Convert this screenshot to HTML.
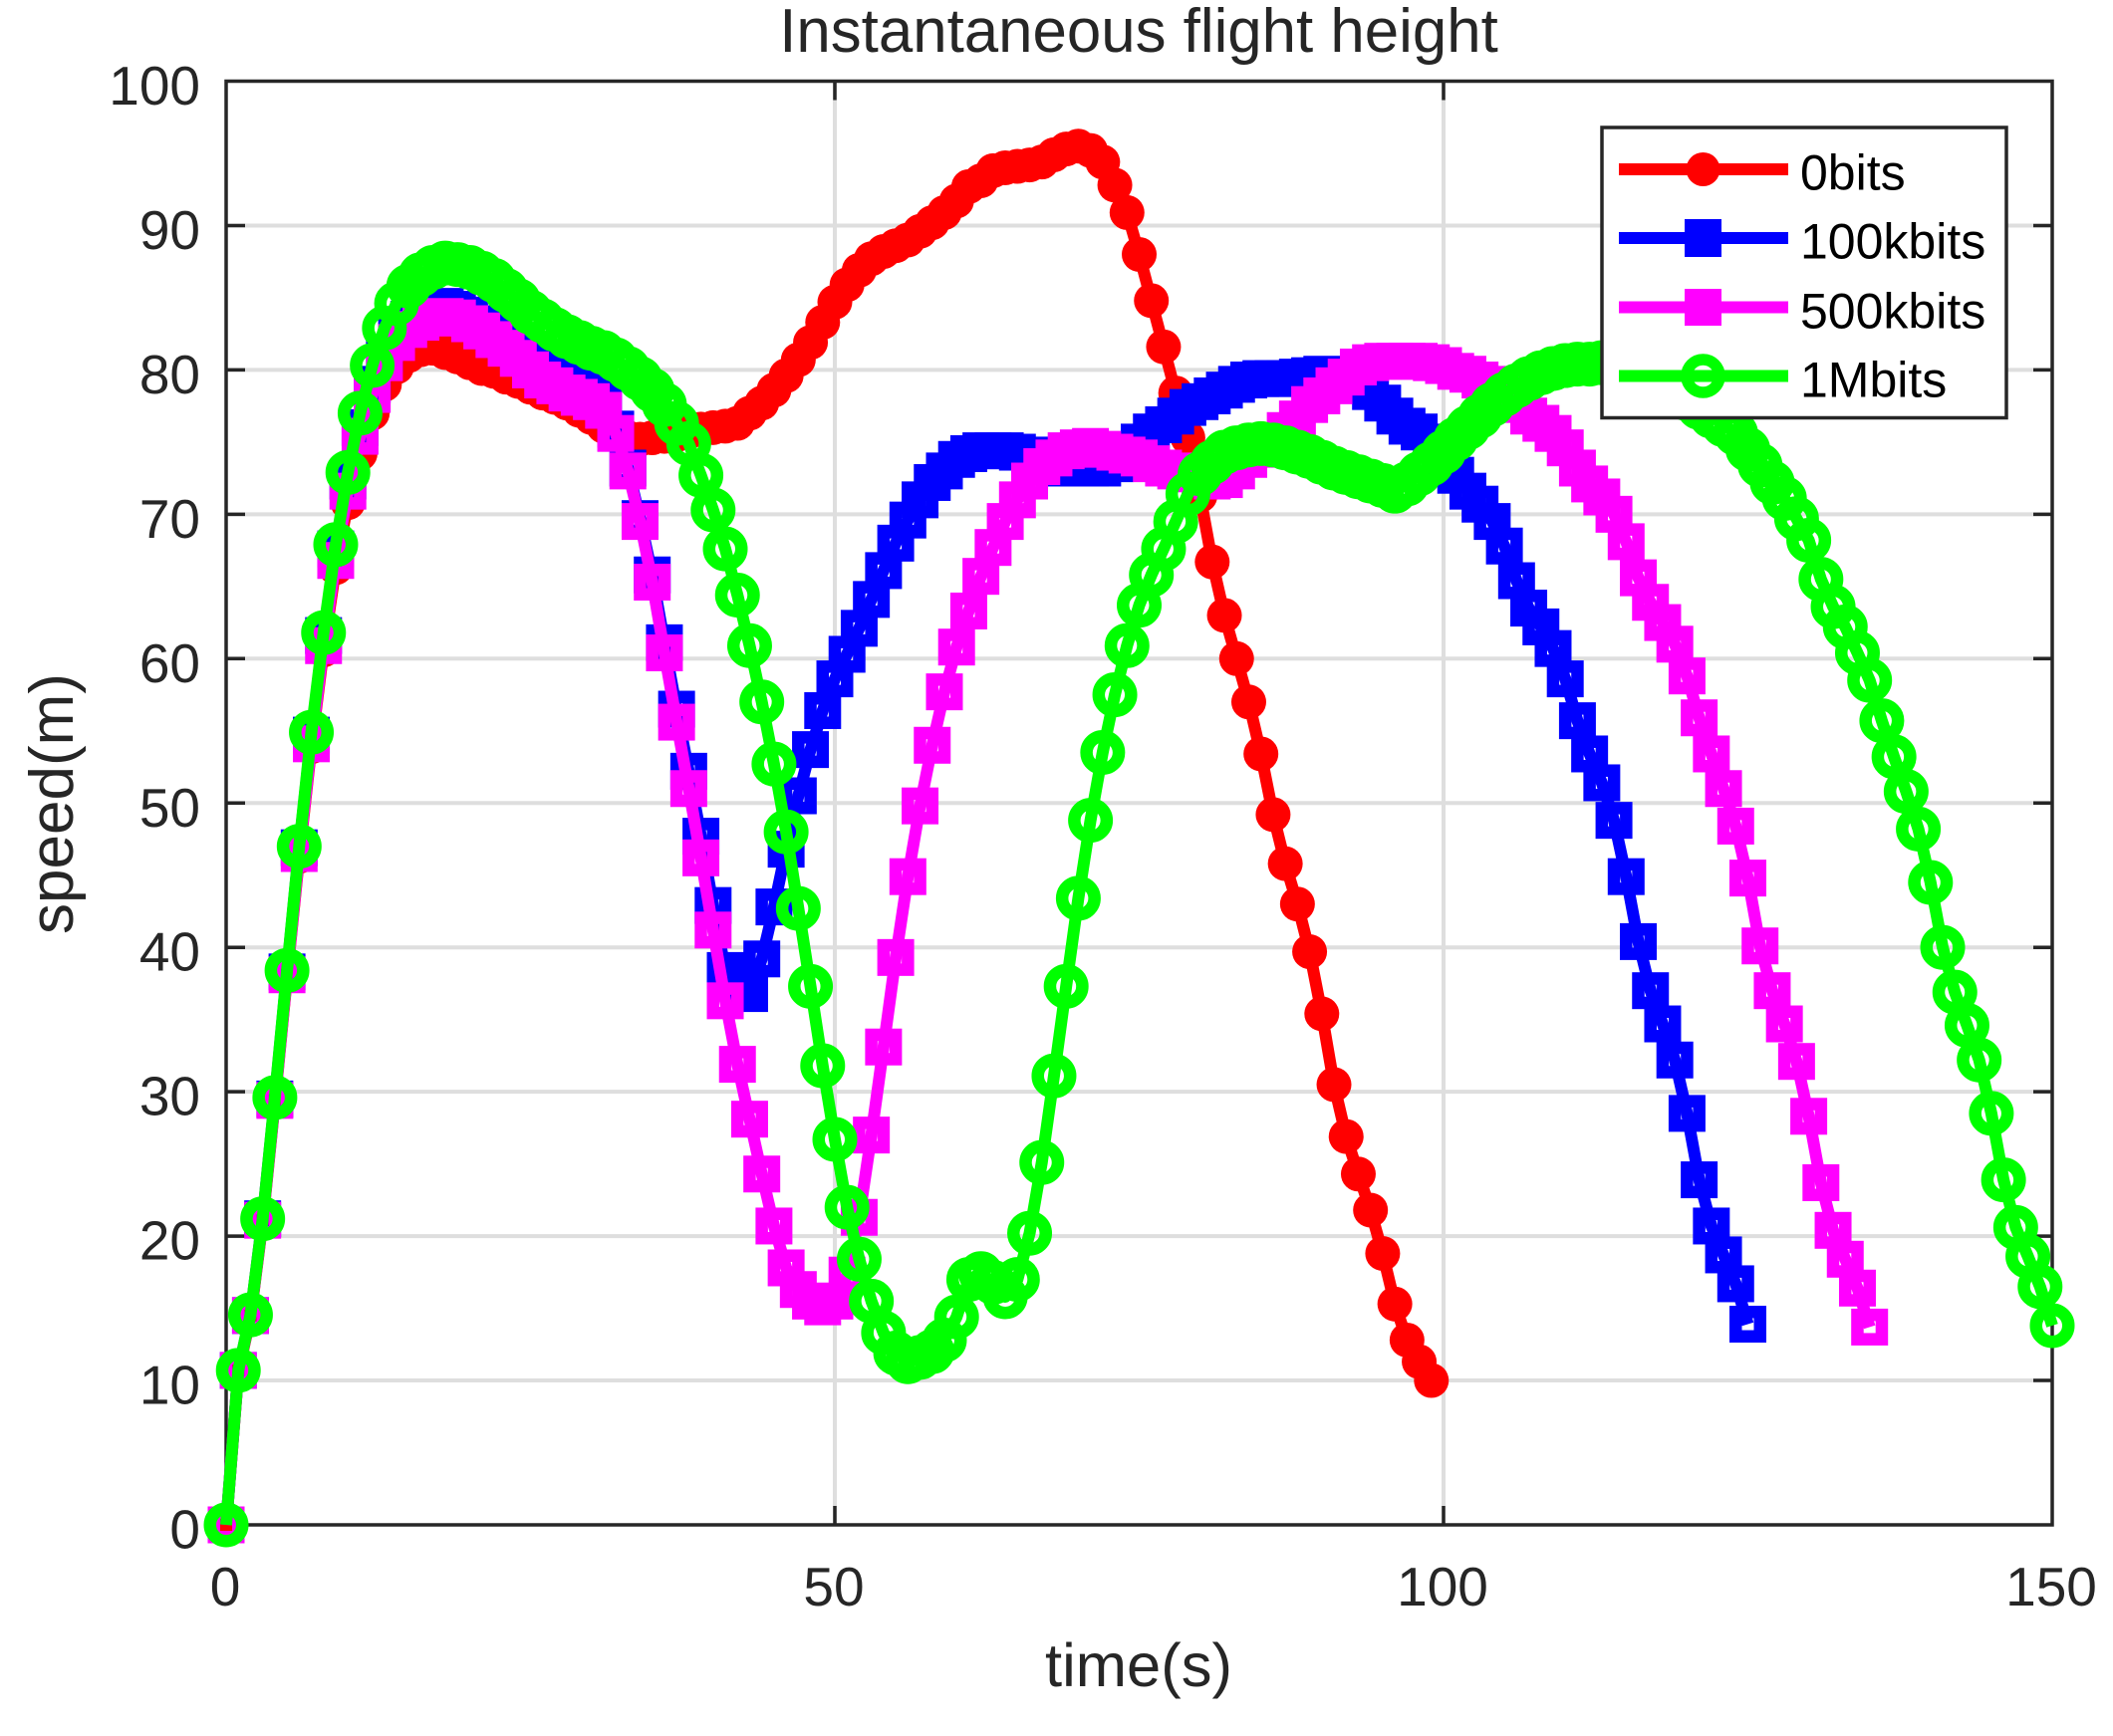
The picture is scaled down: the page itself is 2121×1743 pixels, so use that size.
<!DOCTYPE html>
<html lang="en">
<head>
<meta charset="utf-8">
<title>Instantaneous flight height</title>
<style>
html,body{margin:0;padding:0;background:#fff;}
svg{display:block;font-family:"Liberation Sans",Arial,sans-serif;}
</style>
</head>
<body>
<svg id="chart" xmlns="http://www.w3.org/2000/svg" width="2121" height="1743" viewBox="0 0 2121 1743">
  <rect x="0" y="0" width="2121" height="1743" fill="#ffffff"/>
  <rect x="227" y="81.5" width="1833" height="1449.5" fill="#ffffff"/>
  <g id="grid"></g>
  <g id="axes"></g>
  <g id="series"></g>
  <text x="1143" y="52" font-size="61.8" text-anchor="middle" fill="#262626">Instantaneous flight height</text>
  <text x="1143" y="1693" font-size="61.5" text-anchor="middle" fill="#262626">time(s)</text>
  <text transform="translate(73,807) rotate(-90)" font-size="62" text-anchor="middle" fill="#262626">speed(m)</text>
  <g>
    <rect x="1608" y="128" width="406" height="291.5" fill="#ffffff" stroke="#262626" stroke-width="3.5"/>
    <g>
      <line x1="1625" x2="1795" y1="170" y2="170" stroke="#ff0000" stroke-width="12"/>
      <circle cx="1709.5" cy="170" r="17" fill="#ff0000"/>
      <text x="1807" y="190.5" font-size="50" fill="#000">0bits</text>
    </g>
    <g>
      <line x1="1625" x2="1795" y1="239" y2="239" stroke="#0000ff" stroke-width="12"/>
      <rect x="1691" y="220" width="37" height="38" fill="#0000ff"/>
      <text x="1807" y="259.5" font-size="50" fill="#000">100kbits</text>
    </g>
    <g>
      <line x1="1625" x2="1795" y1="308.5" y2="308.5" stroke="#ff00ff" stroke-width="12"/>
      <rect x="1691" y="290" width="37" height="37" fill="#ff00ff"/>
      <text x="1807" y="329.5" font-size="50" fill="#000">500kbits</text>
    </g>
    <g>
      <line x1="1625" x2="1795" y1="377.5" y2="377.5" stroke="#00ff00" stroke-width="12"/>
      <circle cx="1709.5" cy="377.5" r="16.5" fill="none" stroke="#00ff00" stroke-width="11.5"/>
      <text x="1807" y="398.5" font-size="50" fill="#000">1Mbits</text>
    </g>
  </g>
</svg>
<script>
const xTickValues = [0, 50, 100, 150];
const yTickValues = [0, 10, 20, 30, 40, 50, 60, 70, 80, 90, 100];
const timeStepSeconds = 1;
const heightRed0bits = [
  0,10.6,14.4,21,29.3,38,46.3,53.9,60.6,66.3,
  70.8,74.2,77,79,80.2,81,81.4,81.5,81.2,80.9,
  80.5,80.1,79.9,79.5,79.2,78.8,78.4,78.1,77.7,77.2,
  76.7,76.1,75.6,75.3,75.2,75.3,75.4,75.5,75.7,75.9,
  76,76.1,76.3,77,77.7,78.6,79.6,80.7,81.9,83.3,
  84.7,85.9,86.9,87.7,88.2,88.6,89,89.6,90.2,90.9,
  91.7,92.7,93.1,93.8,94,94.1,94.2,94.4,94.9,95.3,
  95.5,95.2,94.4,92.8,90.9,88,84.8,81.6,78.4,75.3,
  71.3,66.7,63,60,57,53.4,49.2,45.8,43,39.7,
  35.4,30.5,26.9,24.3,21.8,18.8,15.3,12.8,11.3,10
];
const heightBlue100kbits = [
  0,10.7,14.5,21.2,29.5,38.3,46.9,54.7,61.6,67.6,
  72.3,76,79,81.1,82.6,83.5,84,84.3,84.4,84.2,
  83.8,83.2,82.6,82,81.4,81,80.6,80.3,80,79.5,
  79,78,75.9,73.2,69.7,65.8,61.1,56.5,52.2,47.7,
  42.9,38.4,37.6,36.8,39.2,42.8,46.8,50.5,53.7,56.4,
  58.6,60.3,62.1,64.1,66.1,68,69.6,71,72.2,73,
  73.8,74.2,74.4,74.4,74.4,74.3,74.1,73.8,73.4,73.2,
  73.2,73.2,73.2,73.5,74.2,75,75.7,76.2,76.8,77.4,
  77.8,78.2,78.6,79,79.3,79.4,79.4,79.4,79.5,79.6,
  79.7,79.6,79.4,79,78.5,77.7,76.8,76.1,75.7,75,
  73.9,72.7,71.6,70.7,69.5,67.8,65.4,63.5,62.2,60.7,
  58.6,55.7,53.4,51.4,48.8,44.9,40.4,37,34.7,32.2,
  28.5,23.9,20.7,18.7,16.7,13.9
];
const heightMagenta500kbits = [
  0,10.7,14.5,21.1,29.4,38.1,46.5,54.1,60.9,66.8,
  71.6,75.4,78.3,80.5,81.9,82.8,83.3,83.6,83.7,83.6,
  83.2,82.7,82.1,81.5,80.8,80,79.3,78.9,78.4,78.1,
  77.8,77.2,75.6,73,69.5,65.3,60.4,55.6,51,46.2,
  41.2,36.3,31.9,28.1,24.3,20.7,17.8,16.3,15.5,15.1,
  15.5,17.3,21.3,27,33.1,39.3,44.9,49.8,54,57.7,
  60.8,63.3,65.7,67.7,69.5,71,72.3,73.3,73.9,74.4,
  74.6,74.7,74.5,74.3,74.1,73.9,73.5,73.2,73,72.8,
  72.5,72.3,72.4,73,73.8,74.5,75,75.8,76.6,77.6,
  78.2,78.9,79.5,80.2,80.5,80.6,80.6,80.6,80.6,80.5,
  80.3,79.9,79.7,79.3,79,78.3,77.6,76.8,76.3,75.6,
  74.6,73.2,72.1,71.2,70,68.1,65.6,63.9,62.5,61,
  58.8,55.9,53.4,51,48.4,44.8,40.1,37,34.7,32.1,
  28.3,23.7,20.4,18.4,16.4,13.7
];
const heightGreen1Mbits = [
  0,10.7,14.55,21.2,29.6,38.4,47,54.9,61.8,67.9,
  72.9,77,80.3,82.9,84.6,85.8,86.6,87.1,87.4,87.3,
  87.1,86.7,86.2,85.5,84.8,84,83.4,82.8,82.3,81.9,
  81.5,81.2,80.7,80.1,79.4,78.6,77.6,76.3,74.9,72.7,
  70.3,67.6,64.4,60.9,57,52.7,48,42.7,37.3,31.8,
  26.7,22,18.4,15.5,13.3,11.9,11.3,11.6,12,12.8,
  14.4,17,17.4,16.8,15.8,17,20.2,25.1,31.1,37.3,
  43.4,48.8,53.5,57.5,60.9,63.7,65.8,67.6,69.5,71.4,
  72.8,73.6,74.3,74.6,74.8,74.9,74.8,74.6,74.3,74,
  73.6,73.2,72.9,72.6,72.3,72,71.6,72.1,72.8,73.5,
  74.3,75.2,76,76.8,77.6,78.3,78.9,79.4,79.8,80.1,
  80.3,80.4,80.4,80.5,80.6,80.3,80,79.5,79,78.5,
  78,77.4,76.8,76.2,75.6,74.5,73.4,72.2,71.1,69.7,
  68.2,65.5,63.6,62.2,60.4,58.5,55.7,53.2,50.8,48.2,
  44.5,40,36.9,34.6,32.2,28.5,23.9,20.6,18.6,16.5,13.8
];

const NS = 'http://www.w3.org/2000/svg';
const plotLeft = 227, plotRight = 2060, plotTop = 81.5, plotBottom = 1531;
const xMin = 0, xMax = 150, yMin = 0, yMax = 100;
function xScale(v) { return plotLeft + (v - xMin) / (xMax - xMin) * (plotRight - plotLeft); }
function yScale(v) { return plotBottom - (v - yMin) / (yMax - yMin) * (plotBottom - plotTop); }
function make(tag, parent, attrs) {
  const el = document.createElementNS(NS, tag);
  for (const k in attrs) el.setAttribute(k, attrs[k]);
  parent.appendChild(el);
  return el;
}
const gridG = document.getElementById('grid');
const axesG = document.getElementById('axes');
const seriesG = document.getElementById('series');
const gridColor = '#dedede', axisColor = '#262626', tickLen = 19;

xTickValues.forEach(function (v) {
  const x = xScale(v);
  if (v > xMin && v < xMax) {
    const g = make('line', gridG, {x1: x, x2: x, y1: plotTop, y2: plotBottom, stroke: gridColor, 'stroke-width': 4});
    
    
    const t1 = make('line', axesG, {x1: x, x2: x, y1: plotBottom, y2: plotBottom - tickLen, stroke: axisColor, 'stroke-width': 3.5});
    
    
    const t2 = make('line', axesG, {x1: x, x2: x, y1: plotTop, y2: plotTop + tickLen, stroke: axisColor, 'stroke-width': 3.5});
    
    
  }
  const lab = make('text', axesG, {x: x - 1, y: 1612, 'font-size': 55, 'text-anchor': 'middle', fill: axisColor});
  lab.textContent = String(v);
  
  
});
yTickValues.forEach(function (v) {
  const y = yScale(v);
  if (v > yMin && v < yMax) {
    const g = make('line', gridG, {x1: plotLeft, x2: plotRight, y1: y, y2: y, stroke: gridColor, 'stroke-width': 4});
    
    
    const t1 = make('line', axesG, {x1: plotLeft, x2: plotLeft + tickLen, y1: y, y2: y, stroke: axisColor, 'stroke-width': 3.5});
    
    
    const t2 = make('line', axesG, {x1: plotRight, x2: plotRight - tickLen, y1: y, y2: y, stroke: axisColor, 'stroke-width': 3.5});
    
    
  }
  const lab = make('text', axesG, {x: 201, y: y + 23.5, 'font-size': 55, 'text-anchor': 'end', fill: axisColor});
  lab.textContent = String(v);
  
  
});
const frame = make('rect', axesG, {x: plotLeft, y: plotTop, width: plotRight - plotLeft, height: plotBottom - plotTop, fill: 'none', stroke: axisColor, 'stroke-width': 3.5});



function drawSeries(values, color, kind, label) {
  const g = make('g', seriesG, {});
  
  
  const pts = values.map(function (v, i) { return xScale(i * timeStepSeconds).toFixed(2) + ',' + yScale(v).toFixed(2); }).join(' ');
  const line = make('polyline', g, {points: pts, fill: 'none', stroke: color, 'stroke-width': 12, 'stroke-linejoin': 'round'});
  
  
  values.forEach(function (v, i) {
    const cx = xScale(i * timeStepSeconds), cy = yScale(v);
    let m;
    if (kind === 'dot') {
      m = make('circle', g, {cx: cx, cy: cy, r: 17.5, fill: color});
    } else if (kind === 'square') {
      m = make('rect', g, {x: cx - 12.25, y: cy - 12.25, width: 24.5, height: 24.5, fill: 'none', stroke: color, 'stroke-width': 12.5});
    } else {
      m = make('circle', g, {cx: cx, cy: cy, r: 16.25, fill: 'none', stroke: color, 'stroke-width': 12.5});
    }
    
    
  });
}
drawSeries(heightRed0bits, '#ff0000', 'dot', '0bits');
drawSeries(heightBlue100kbits, '#0000ff', 'square', '100kbits');
drawSeries(heightMagenta500kbits, '#ff00ff', 'square', '500kbits');
drawSeries(heightGreen1Mbits, '#00ff00', 'ring', '1mbits');
</script>
</body>
</html>
